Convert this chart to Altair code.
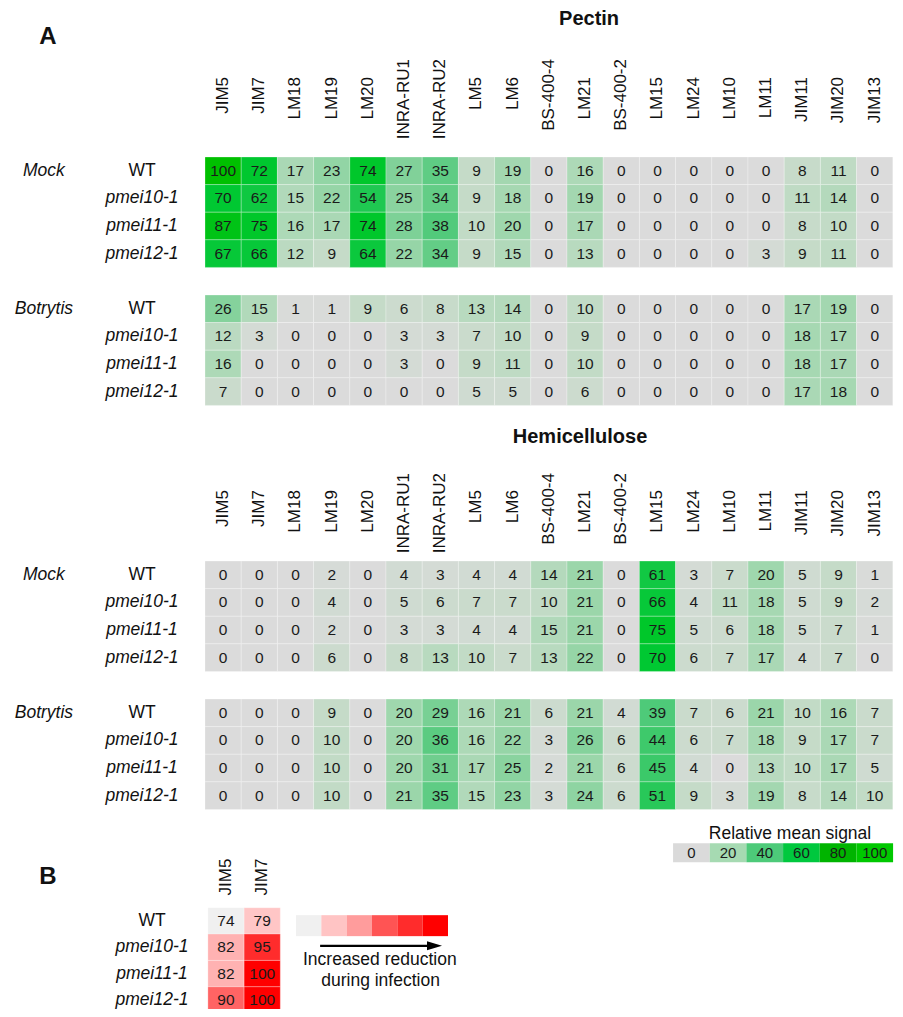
import altair as alt
import pandas as pd

# ---------------- data ----------------
antibodies = ["JIM5", "JIM7", "LM18", "LM19", "LM20", "INRA-RU1", "INRA-RU2", "LM5", "LM6",
              "BS-400-4", "LM21", "BS-400-2", "LM15", "LM24", "LM10", "LM11", "JIM11", "JIM20", "JIM13"]
genotypes = ["WT", "pmei10-1", "pmei11-1", "pmei12-1"]
treatments = ["Mock", "Botrytis"]
sections = ["Pectin", "Hemicellulose"]

pectin_mock = [
    [100, 72, 17, 23, 74, 27, 35, 9, 19, 0, 16, 0, 0, 0, 0, 0, 8, 11, 0],
    [70, 62, 15, 22, 54, 25, 34, 9, 18, 0, 19, 0, 0, 0, 0, 0, 11, 14, 0],
    [87, 75, 16, 17, 74, 28, 38, 10, 20, 0, 17, 0, 0, 0, 0, 0, 8, 10, 0],
    [67, 66, 12, 9, 64, 22, 34, 9, 15, 0, 13, 0, 0, 0, 0, 3, 9, 11, 0],
]
pectin_botrytis = [
    [26, 15, 1, 1, 9, 6, 8, 13, 14, 0, 10, 0, 0, 0, 0, 0, 17, 19, 0],
    [12, 3, 0, 0, 0, 3, 3, 7, 10, 0, 9, 0, 0, 0, 0, 0, 18, 17, 0],
    [16, 0, 0, 0, 0, 3, 0, 9, 11, 0, 10, 0, 0, 0, 0, 0, 18, 17, 0],
    [7, 0, 0, 0, 0, 0, 0, 5, 5, 0, 6, 0, 0, 0, 0, 0, 17, 18, 0],
]
hemi_mock = [
    [0, 0, 0, 2, 0, 4, 3, 4, 4, 14, 21, 0, 61, 3, 7, 20, 5, 9, 1],
    [0, 0, 0, 4, 0, 5, 6, 7, 7, 10, 21, 0, 66, 4, 11, 18, 5, 9, 2],
    [0, 0, 0, 2, 0, 3, 3, 4, 4, 15, 21, 0, 75, 5, 6, 18, 5, 7, 1],
    [0, 0, 0, 6, 0, 8, 13, 10, 7, 13, 22, 0, 70, 6, 7, 17, 4, 7, 0],
]
hemi_botrytis = [
    [0, 0, 0, 9, 0, 20, 29, 16, 21, 6, 21, 4, 39, 7, 6, 21, 10, 16, 7],
    [0, 0, 0, 10, 0, 20, 36, 16, 22, 3, 26, 6, 44, 6, 7, 18, 9, 17, 7],
    [0, 0, 0, 10, 0, 20, 31, 17, 25, 2, 21, 6, 45, 4, 0, 13, 10, 17, 5],
    [0, 0, 0, 10, 0, 21, 35, 15, 23, 3, 24, 6, 51, 9, 3, 19, 8, 14, 10],
]

b_antibodies = ["JIM5", "JIM7"]
b_values = [[74, 79], [82, 95], [82, 100], [90, 100]]

legend_ticks = [0, 20, 40, 60, 80, 100]
legend_colors = ["#dadada", "#a6dab2", "#4dca79", "#00c83e", "#00b400", "#00c800"]
red_legend_colors = ["#f0f0f0", "#ffc4c4", "#ff9c9c", "#ff5454", "#ff2c2c", "#ff0000"]

green_domain = [0, 10, 20, 30, 40, 55, 70, 100]
green_range = ["#dbdbdb", "#c2dbc6", "#9fd7ad", "#74cf91", "#4ac976", "#1cc84e", "#00c832", "#00c000"]
red_domain = [74, 79, 82, 90, 95, 100]
red_range = ["#f0f0f0", "#ffc6c6", "#ffb2b2", "#ff6464", "#ff2c2c", "#ff0000"]

FONT = "Liberation Sans"

# ---------------- layout (in cell units) ----------------
block_offsets = {("Pectin", "Mock"): 0.0, ("Pectin", "Botrytis"): 5.0,
                 ("Hemicellulose", "Mock"): 14.64, ("Hemicellulose", "Botrytis"): 19.64}
label_top = {"Pectin": (-2.90, -3.55), "Hemicellulose": (12.07, 11.45)}
title_pos = {"Pectin": (10.61, -5.0), "Hemicellulose": (10.36, 10.16)}
ROWLAB_X = -1.74
TREAT_X = -4.45

xs = alt.Scale(domain=[-5.442, 19.0608], nice=False, zero=False)
ys = alt.Scale(domain=[-5.3986, 30.8696], nice=False, zero=False, reverse=True)

blocks = {("Pectin", "Mock"): pectin_mock, ("Pectin", "Botrytis"): pectin_botrytis,
          ("Hemicellulose", "Mock"): hemi_mock, ("Hemicellulose", "Botrytis"): hemi_botrytis}

cells, rowlabs, treatlabs = [], [], []
for (sec, tr), vals in blocks.items():
    off = block_offsets[(sec, tr)]
    for i, g in enumerate(genotypes):
        for j, ab in enumerate(antibodies):
            cells.append({"x": j, "x2": j + 1, "xc": j + 0.5, "y": off + i, "y2": off + i + 1,
                          "yc": off + i + 0.5, "value": vals[i][j]})
        rowlabs.append({"label": g, "x": ROWLAB_X, "y": off + i + 0.5, "italic": g != "WT"})
    treatlabs.append({"label": tr, "x": TREAT_X, "y": off + 0.5})
cells = pd.DataFrame(cells)

collabs = []
for sec in sections:
    short_top, long_top = label_top[sec]
    for j, ab in enumerate(antibodies):
        collabs.append({"label": ab, "x": j + 0.5, "y": long_top if len(ab) > 6 else short_top})

titles = [{"label": s, "x": title_pos[s][0], "y": title_pos[s][1], "fs": 20} for s in sections]
titles += [{"label": "A", "x": -4.337, "y": -4.348, "fs": 24}, {"label": "B", "x": -4.337, "y": 26.10, "fs": 24}]

# B panel
B_X0, B_Y0, B_H = 0.08, 27.20, 0.955
bcells, brow = [], []
for i, g in enumerate(genotypes):
    for j, ab in enumerate(b_antibodies):
        bcells.append({"x": B_X0 + j, "x2": B_X0 + j + 1, "xc": B_X0 + j + 0.5,
                       "y": B_Y0 + i * B_H, "y2": B_Y0 + (i + 1) * B_H, "yc": B_Y0 + (i + 0.5) * B_H,
                       "reduction": b_values[i][j]})
    brow.append({"label": g, "x": -1.464, "y": B_Y0 + (i + 0.5) * B_H, "italic": g != "WT"})
bcol = [{"label": ab, "x": B_X0 + j + 0.5, "y": 25.42} for j, ab in enumerate(b_antibodies)]

# legends
LG_X0, LG_W, LG_Y0, LG_Y1 = 12.93, 1.013, 24.86, 25.55
glegend = pd.DataFrame([{"x": LG_X0 + k * LG_W, "x2": LG_X0 + (k + 1) * LG_W, "xc": LG_X0 + (k + 0.5) * LG_W,
                         "y": LG_Y0, "y2": LG_Y1, "yc": (LG_Y0 + LG_Y1) / 2, "label": str(t), "color": c}
                        for k, (t, c) in enumerate(zip(legend_ticks, legend_colors))])
RL_X0, RL_W, RL_Y0, RL_Y1 = 2.514, 0.6998, 27.47, 28.23
rlegend = pd.DataFrame([{"x": RL_X0 + k * RL_W, "x2": RL_X0 + (k + 1) * RL_W, "y": RL_Y0, "y2": RL_Y1, "color": c}
                        for k, c in enumerate(red_legend_colors)])
notes = pd.DataFrame([{"label": "Relative mean signal", "x": 16.16, "y": 24.53},
                      {"label": "Increased reduction", "x": 4.83, "y": 29.08},
                      {"label": "during infection", "x": 4.85, "y": 29.84}])
arrow_line = pd.DataFrame([{"x": 3.18, "x2": 6.25, "y": 28.58}])
arrow_head = pd.DataFrame([{"x": 6.34, "y": 28.58}])

# ---------------- chart ----------------
def X(f="x"):
    return alt.X(f"{f}:Q", scale=xs, axis=None)

def Y(f="y"):
    return alt.Y(f"{f}:Q", scale=ys, axis=None)

green = alt.Scale(domain=green_domain, range=green_range, interpolate="rgb")
red = alt.Scale(domain=red_domain, range=red_range, interpolate="rgb")

layers = []
layers.append(alt.Chart(cells).mark_rect(stroke="#ffffff", strokeWidth=0.6, strokeOpacity=0.45).encode(
    x=X(), x2="x2", y=Y(), y2="y2", color=alt.Color("value:Q", scale=green, legend=None)))
layers.append(alt.Chart(cells).mark_text(font=FONT, fontSize=15.5, color="#1a1a1a", baseline="middle").encode(
    x=X("xc"), y=Y("yc"), text=alt.Text("value:Q", format="d")))
layers.append(alt.Chart(pd.DataFrame(collabs)).mark_text(font=FONT, fontSize=17, color="#111111", angle=270,
                                                         align="right", baseline="middle").encode(
    x=X(), y=Y(), text="label:N"))
rl = pd.DataFrame(rowlabs + brow)
layers.append(alt.Chart(rl[~rl.italic]).mark_text(font=FONT, fontSize=17.5, color="#111111", baseline="middle").encode(
    x=X(), y=Y(), text="label:N"))
layers.append(alt.Chart(rl[rl.italic]).mark_text(font=FONT, fontSize=17.5, fontStyle="italic", color="#111111",
                                                 baseline="middle").encode(x=X(), y=Y(), text="label:N"))
layers.append(alt.Chart(pd.DataFrame(treatlabs)).mark_text(font=FONT, fontSize=17.5, fontStyle="italic",
                                                           color="#111111", baseline="middle").encode(
    x=X(), y=Y(), text="label:N"))
layers.append(alt.Chart(pd.DataFrame(titles)).mark_text(font=FONT, fontWeight="bold", color="#111111",
                                                        baseline="middle").encode(
    x=X(), y=Y(), text="label:N", size=alt.Size("fs:Q", scale=None)))
# green legend
layers.append(alt.Chart(glegend).mark_rect().encode(x=X(), x2="x2", y=Y(), y2="y2",
                                                    fill=alt.Fill("color:N", scale=None)))
layers.append(alt.Chart(glegend).mark_text(font=FONT, fontSize=15, color="#1a1a1a", baseline="middle").encode(
    x=X("xc"), y=Y("yc"), text="label:N"))
# B panel
bdf = pd.DataFrame(bcells)
layers.append(alt.Chart(bdf).mark_rect(stroke="#ffffff", strokeWidth=0.6, strokeOpacity=0.45).encode(
    x=X(), x2="x2", y=Y(), y2="y2", fill=alt.Fill("reduction:Q", scale=red, legend=None)))
layers.append(alt.Chart(bdf).mark_text(font=FONT, fontSize=15.5, color="#1a1a1a", baseline="middle").encode(
    x=X("xc"), y=Y("yc"), text=alt.Text("reduction:Q", format="d")))
layers.append(alt.Chart(pd.DataFrame(bcol)).mark_text(font=FONT, fontSize=17, color="#111111", angle=270,
                                                      align="right", baseline="middle").encode(
    x=X(), y=Y(), text="label:N"))
layers.append(alt.Chart(rlegend).mark_rect().encode(x=X(), x2="x2", y=Y(), y2="y2",
                                                    fill=alt.Fill("color:N", scale=None)))
layers.append(alt.Chart(arrow_line).mark_rule(color="#000000", strokeWidth=2.2).encode(x=X(), x2="x2", y=Y()))
layers.append(alt.Chart(arrow_head).mark_point(shape="M-1,-0.6L1,0L-1,0.6Z", filled=True, size=225,
                                               color="#000000", opacity=1).encode(x=X(), y=Y()))
layers.append(alt.Chart(notes).mark_text(font=FONT, fontSize=17.5, color="#111111", baseline="middle").encode(
    x=X(), y=Y(), text="label:N"))

chart = alt.layer(*layers).resolve_scale(color="independent", fill="independent").properties(
    width=887, height=1001, autosize="none", padding=0).configure_view(stroke=None)

chart.save("out.html", embed_options={"renderer": "svg", "actions": False})
